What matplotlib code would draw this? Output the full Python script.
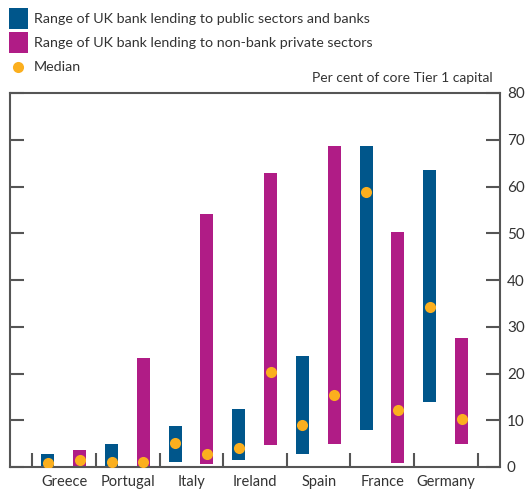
import numpy as np
import matplotlib
matplotlib.use("Agg")
import matplotlib.pyplot as plt
from matplotlib.patches import Rectangle
from matplotlib.lines import Line2D

plt.rcParams['font.family'] = ['Lato', 'DejaVu Sans']

# Datos
countries = ["Greece", "Portugal", "Italy", "Ireland", "Spain", "France", "Germany"]

public_low = [0.0, 0.3, 1.1, 1.5, 2.8, 7.9, 14.0]
public_high = [2.8, 4.9, 8.8, 12.4, 23.8, 68.7, 63.6]
public_median = [0.9, 1.1, 5.1, 4.1, 8.9, 58.8, 34.2]

private_low = [0.0, 0.0, 0.6, 4.7, 4.9, 0.9, 4.9]
private_high = [3.6, 23.3, 54.2, 62.9, 68.7, 50.3, 27.6]
private_median = [1.6, 1.1, 2.8, 20.3, 15.4, 12.2, 10.2]

yticks = [0, 10, 20, 30, 40, 50, 60, 70, 80]

blue = "#00568B"
magenta = "#B01C86"
orange = "#FBAF1E"
grey = "#555555"
txt = "#333333"

W, H = 527, 492
fig = plt.figure(figsize=(W / 100, H / 100), dpi=100)
ax = fig.add_axes([10 / W, (H - 467) / H, 490 / W, 374 / H])

x = np.arange(len(countries))
xb = x - 0.255
xm = x + 0.245
ph = np.array(public_high) - np.array(public_low)
mh = np.array(private_high) - np.array(private_low)

ax.bar(xb, ph, bottom=public_low, width=0.205, color=blue, zorder=2)
ax.bar(xm, mh, bottom=private_low, width=0.205, color=magenta, zorder=2)
ax.scatter(xb, public_median, s=64, color=orange, zorder=3, linewidths=0)
ax.scatter(xm, private_median, s=64, color=orange, zorder=3, linewidths=0)

ax.set_xlim(-0.85, 6.85)
ax.set_ylim(0, 80)

for s in ax.spines.values():
    s.set_color(grey)
    s.set_linewidth(1.5)

ax.set_xticks(x)
ax.set_xticklabels(countries, fontsize=10.5, color=txt)
ax.set_xticks(np.arange(-0.5, 7, 1), minor=True)
ax.tick_params(axis='x', which='major', length=0, pad=6)
ax.tick_params(axis='x', which='minor', direction='in', length=10, width=1.5, color=grey)

ax.set_yticks(yticks)
ax.set_yticklabels([str(v) for v in yticks], fontsize=11, color=txt)
ax.tick_params(axis='y', direction='in', length=10, width=1.5, color=grey,
               left=True, right=True, labelleft=False, labelright=True, pad=5)

fig.text(493 / W, 1 - 78 / H, "Per cent of core Tier 1 capital", ha='right', va='center',
         fontsize=10, color=txt)

# Leyenda
items = [("Range of UK bank lending to public sectors and banks", blue),
         ("Range of UK bank lending to non-bank private sectors", magenta)]
for i, (label, col) in enumerate(items):
    yc = 19 + 24 * i
    fig.add_artist(Rectangle((9 / W, 1 - (yc + 10) / H), 19 / W, 21 / H,
                             transform=fig.transFigure, color=col, lw=0))
    fig.text(34 / W, 1 - yc / H, label, ha='left', va='center', fontsize=10.3, color=txt)
fig.add_artist(Line2D([18 / W], [1 - 67 / H], transform=fig.transFigure, marker='o',
                      markersize=8, color=orange, markeredgewidth=0))
fig.text(34 / W, 1 - 67 / H, "Median", ha='left', va='center', fontsize=10.3, color=txt)

fig.savefig("out.png", dpi=100)
